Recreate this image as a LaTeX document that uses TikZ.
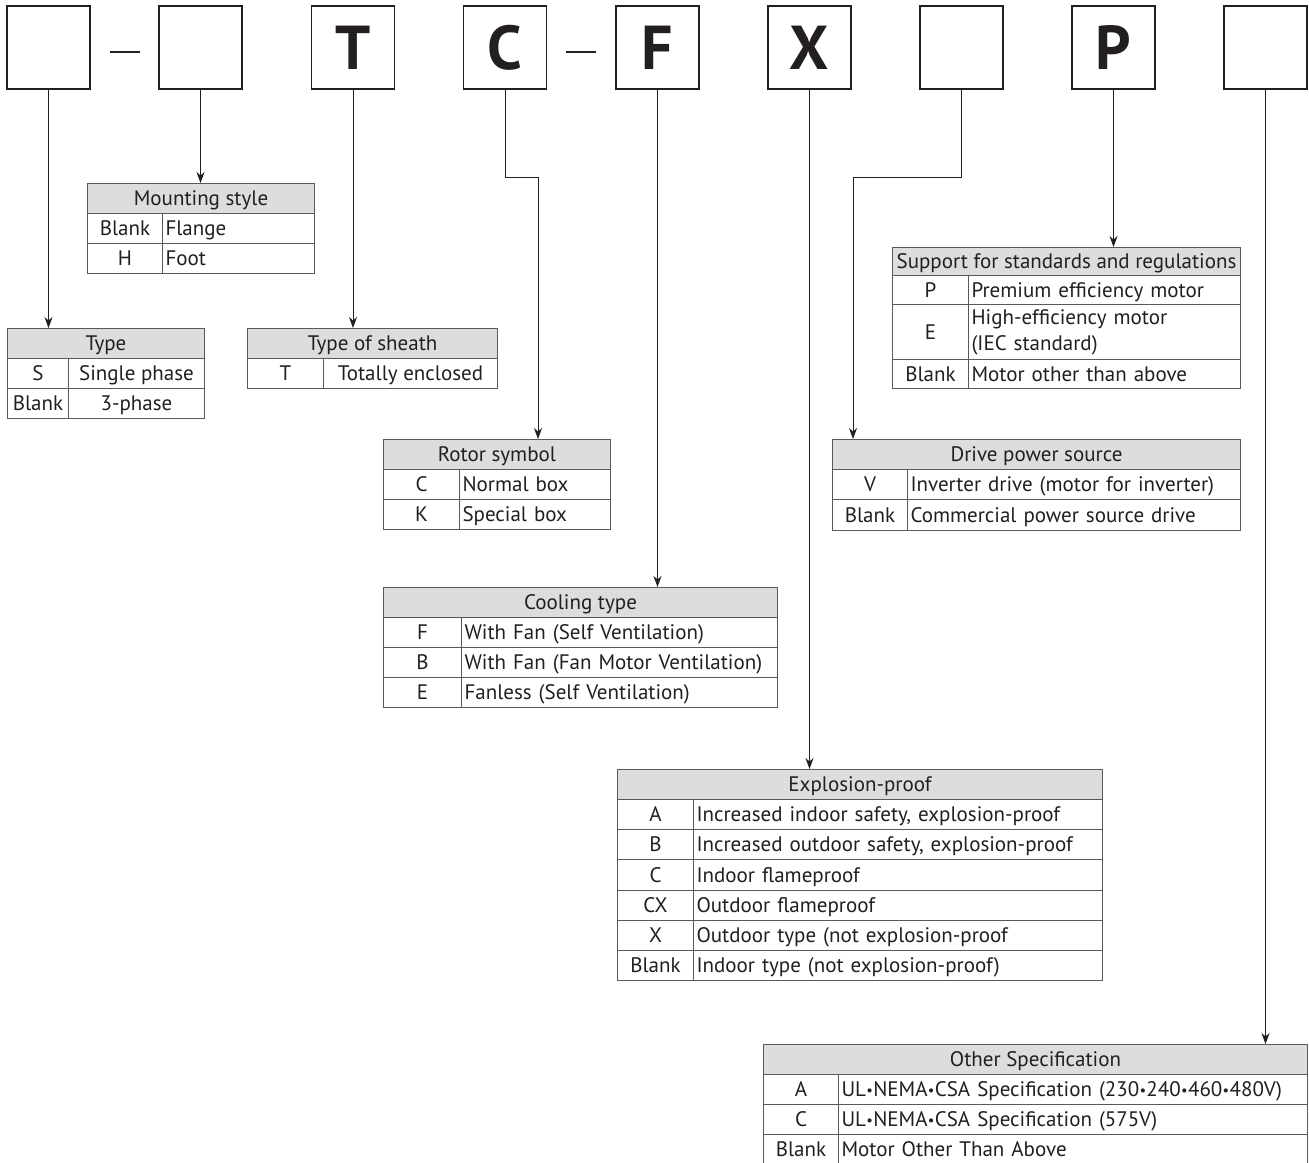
\documentclass[tikz,border=0pt]{standalone}
\usepackage{fontspec}
\usepackage{graphicx}
\setmainfont{PT Sans}
\usetikzlibrary{arrows.meta}
\definecolor{ink}{HTML}{231F20}
\definecolor{rulec}{HTML}{58595B}
\definecolor{hd}{HTML}{DCDDDE}
\newcommand\tabfont{\fontsize{21}{26}\selectfont}
\newcommand\sbul{\kern0.3pt\raisebox{1.2pt}{\scalebox{0.7}{•}}\kern0.3pt}
\tikzset{
 topbox/.style={draw=ink, line width=1.4pt, minimum width=83pt, minimum height=83pt, inner sep=0pt, font=\fontsize{62}{62}\selectfont\bfseries, text=ink},
 cellc/.style={draw=rulec, line width=1pt, inner sep=0pt, align=center, font=\tabfont, text=ink, anchor=north west, text height=19.7pt, text depth=5pt},
 celll/.style={cellc, inner xsep=3pt, align=left},
 headcell/.style={cellc, fill=hd},
 arr/.style={draw=ink, line width=1pt, -{Stealth[length=11pt,width=8pt]}},
 dashln/.style={draw=ink, line width=1.2pt},
}
% name, x0, x1, y0, h, text
\newcommand\thead[6]{%
 \pgfmathsetmacro\wa{#3-#2}%
 \node[headcell, minimum width=\wa pt, minimum height=#5pt] (#1) at (#2,#4) {#6};}
% name, x0, xs, x1, y0, h, code, desc
\newcommand\trow[8]{%
 \pgfmathsetmacro\wa{#3-#2}\pgfmathsetmacro\wb{#4-#3-6}\pgfmathsetmacro\wc{#4-#3}%
 \node[cellc, minimum width=\wa pt, minimum height=#6pt] (#1c) at (#2,#5) {#7};
 \node[celll, minimum width=\wc pt, text width=\wb pt, minimum height=#6pt] (#1d) at (#3,#5) {#8};}
\newcommand\trowc[8]{%
 \pgfmathsetmacro\wa{#3-#2}\pgfmathsetmacro\wc{#4-#3}%
 \node[cellc, minimum width=\wa pt, minimum height=#6pt] (#1c) at (#2,#5) {#7};
 \node[cellc, minimum width=\wc pt, minimum height=#6pt] (#1d) at (#3,#5) {#8};}
\begin{document}
\begin{tikzpicture}[x=1pt,y=-1pt]
\useasboundingbox[fill=white] (0,0) rectangle (1309,1162);
\clip (0,0) rectangle (1309,1162);
% top code boxes
\node[topbox] (b1) at (48.5,47.5) {};
\node[topbox] (b2) at (200.5,47.5) {};
\node[topbox] (bT) at (353,47.5) {T};
\node[topbox] (bC) at (505,47.5) {C};
\node[topbox] (bF) at (657.5,47.5) {F};
\node[topbox] (bX) at (809.5,47.5) {X};
\node[topbox] (bB) at (961.5,47.5) {};
\node[topbox] (bP) at (1113.5,47.5) {P};
\node[topbox] (bL) at (1265.5,47.5) {};
\draw[dashln] (110,52) -- (140,52);
\draw[dashln] (566,52) -- (596,52);
% tables
\thead{mh}{87}{314}{183}{30}{Mounting style}
\trow{m1}{87}{162}{314}{213}{30}{Blank}{Flange}
\trow{m2}{87}{162}{314}{243}{30}{H}{Foot}
\thead{th}{7}{204}{328}{30}{Type}
\trowc{t1}{7}{68}{204}{358}{30}{S}{Single phase}
\trowc{t2}{7}{68}{204}{388}{30}{Blank}{3-phase}
\thead{sh}{247}{497}{328}{30}{Type of sheath}
\trowc{s1}{247}{323}{497}{358}{30}{T}{Totally enclosed}
\thead{rh}{383}{610}{439}{30}{Rotor symbol}
\trow{r1}{383}{459}{610}{469}{30}{C}{Normal box}
\trow{r2}{383}{459}{610}{499}{30}{K}{Special box}
\thead{ch}{383}{777}{587}{30}{Cooling type}
\trow{c1}{383}{461}{777}{617}{30}{F}{With Fan (Self Ventilation)}
\trow{c2}{383}{461}{777}{647}{30}{B}{With Fan (Fan Motor Ventilation)}
\trow{c3}{383}{461}{777}{677}{30}{E}{Fanless (Self Ventilation)}
\thead{ph}{892}{1240}{247}{28}{Support for standards and regulations}
\trow{p1}{892}{968}{1240}{275}{29}{P}{Premium efficiency motor}
\node[cellc, minimum width=76pt, minimum height=55pt] (p2c) at (892,304) {E};
\node[celll, minimum width=272pt, text width=266pt, minimum height=55pt, text height={}, text depth={}] (p2d) at (968,304) {High-efficiency motor\\(IEC standard)};
\trow{p3}{892}{968}{1240}{359}{29}{Blank}{Motor other than above}
\thead{dh}{832}{1240}{439}{30}{Drive power source}
\trow{d1}{832}{907}{1240}{469}{30}{V}{Inverter drive (motor for inverter)}
\trow{d2}{832}{907}{1240}{499}{31}{Blank}{Commercial power source drive}
\thead{eh}{617}{1102}{769}{30}{Explosion-proof}
\trow{e1}{617}{693}{1102}{799}{30}{A}{Increased indoor safety, explosion-proof}
\trow{e2}{617}{693}{1102}{829}{30}{B}{Increased outdoor safety, explosion-proof}
\trow{e3}{617}{693}{1102}{859}{31}{C}{Indoor flameproof}
\trow{e4}{617}{693}{1102}{890}{30}{CX}{Outdoor flameproof}
\trow{e5}{617}{693}{1102}{920}{30}{X}{Outdoor type (not explosion-proof}
\trow{e6}{617}{693}{1102}{950}{30}{Blank}{Indoor type (not explosion-proof)}
\thead{oh}{763}{1307}{1044}{30}{Other Specification}
\trow{o1}{763}{838}{1307}{1074}{30}{A}{UL\sbul NEMA\sbul CSA Specification (230\sbul 240\sbul 460\sbul 480V)}
\trow{o2}{763}{838}{1307}{1104}{30}{C}{UL\sbul NEMA\sbul CSA Specification (575V)}
\trow{o3}{763}{838}{1307}{1134}{30}{Blank}{Motor Other Than Above}
% connectors
\coordinate (kC) at (538,177);
\coordinate (kB) at (853,177);
\draw[arr] (b1.south) -- (b1.south |- th.north);
\draw[arr] (b2.south) -- (b2.south |- mh.north);
\draw[arr] (bT.south) -- (bT.south |- sh.north);
\draw[arr] (bC.south) |- (kC) -- (kC |- rh.north);
\draw[arr] (bF.south) -- (bF.south |- ch.north);
\draw[arr] (bX.south) -- (bX.south |- eh.north);
\draw[arr] (bB.south) |- (kB) -- (kB |- dh.north);
\draw[arr] (bP.south) -- (bP.south |- ph.north);
\draw[arr] (bL.south) -- (bL.south |- oh.north);
\end{tikzpicture}
\end{document}
